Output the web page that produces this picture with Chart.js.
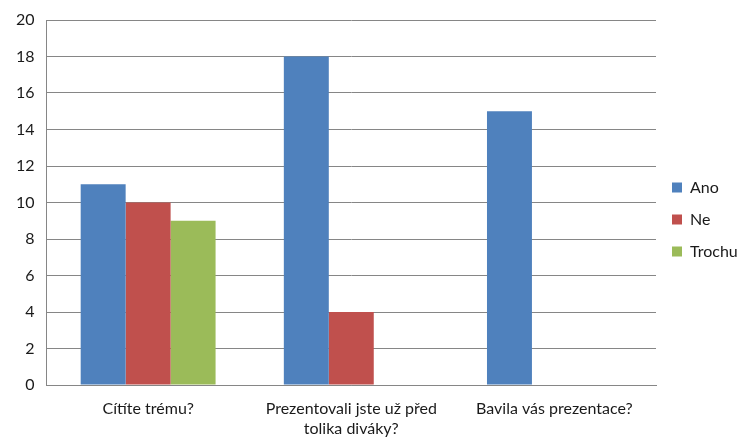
<!DOCTYPE html>
<html>
<head>
<meta charset="utf-8">
<script src="https://cdn.jsdelivr.net/npm/chart.js@4"></script>
<style>
    html, body { margin: 0; padding: 0; background: #fff; }
    #wrap { width: 750px; height: 439px; }
</style>
</head>
<body>
<div id="wrap"><canvas id="my-chart"></canvas></div>
<script>
const categories = ['Cítíte trému?', ['Prezentovali jste už před', 'tolika diváky?'], 'Bavila vás prezentace?'];
const anoValues = [11, 18, 15];
const neValues = [10, 4, 0];
const trochuValues = [9, 0, 0];
const yTicks = [0, 2, 4, 6, 8, 10, 12, 14, 16, 18, 20];

const font = {family: 'Lato', size: 16, lineHeight: 1.25};
const yFont = {family: 'Lato', size: 16, lineHeight: 1.0};
const textColor = '#1a1a1a';
const lineColor = '#868686';

// legend needs a fixed width so the plot stops where the reference does
const legendWidth = {
    id: 'legendWidth',
    beforeInit(chart) {
        const fit = chart.legend.fit;
        chart.legend.fit = function () {
            fit.bind(chart.legend)();
            this.width = 94;
        };
    }
};

const ctx = document.getElementById('my-chart').getContext('2d');
new Chart(ctx, {
    type: 'bar',
    data: {
        labels: categories,
        datasets: [
            {label: 'Ano', data: anoValues, backgroundColor: '#4F81BD'},
            {label: 'Ne', data: neValues, backgroundColor: '#C0504D'},
            {label: 'Trochu', data: trochuValues, backgroundColor: '#9BBB59'}
        ]
    },
    options: {
        responsive: true,
        maintainAspectRatio: false,
        animation: false,
        layout: {padding: {top: 0, left: 4, bottom: 0}},
        datasets: {bar: {barPercentage: 1, categoryPercentage: 0.664}},
        plugins: {
            legend: {
                position: 'right',
                labels: {
                    font: font,
                    color: textColor,
                    boxWidth: 10,
                    boxHeight: 10,
                    padding: 16
                }
            },
            tooltip: {enabled: false}
        },
        scales: {
            x: {
                grid: {display: false},
                border: {display: true, color: lineColor},
                ticks: {font: font, color: textColor, padding: 6, maxRotation: 0},
                afterFit: (axis) => { axis.height = 54; }
            },
            y: {
                min: 0,
                max: 20,
                afterBuildTicks: (axis) => { axis.ticks = yTicks.map(v => ({value: v})); },
                grid: {color: lineColor, drawTicks: false},
                border: {display: true, color: lineColor},
                ticks: {font: yFont, color: textColor, padding: 12}
            }
        }
    },
    plugins: [legendWidth]
});
</script>
</body>
</html>
